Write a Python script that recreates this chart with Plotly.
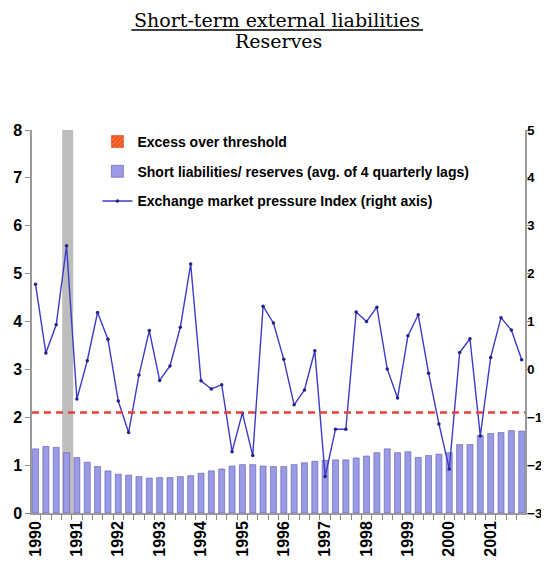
import plotly.graph_objects as go

years = ["1990", "1991", "1992", "1993", "1994", "1995",
         "1996", "1997", "1998", "1999", "2000", "2001"]
quarters = list(range(48))  # 1990Q1 .. 2001Q4

# Short liabilities / reserves (left axis)
ratio = [1.34, 1.39, 1.37, 1.26, 1.16, 1.06, 0.97, 0.88, 0.81, 0.79, 0.76, 0.73,
         0.74, 0.74, 0.76, 0.78, 0.83, 0.88, 0.92, 0.98, 1.01, 1.01, 0.98, 0.97,
         0.97, 1.01, 1.05, 1.08, 1.10, 1.11, 1.11, 1.15, 1.19, 1.26, 1.34, 1.26,
         1.28, 1.16, 1.20, 1.23, 1.26, 1.43, 1.43, 1.62, 1.66, 1.68, 1.72, 1.71]

# Exchange market pressure index (right axis)
empi = [1.78, 0.34, 0.93, 2.58, -0.62, 0.18, 1.19, 0.63, -0.66, -1.32, -0.12, 0.81,
        -0.23, 0.07, 0.88, 2.20, -0.24, -0.41, -0.32, -1.72, -0.91, -1.80, 1.32, 0.97,
        0.21, -0.74, -0.43, 0.39, -2.24, -1.25, -1.25, 1.20, 1.00, 1.30, 0.01, -0.60,
        0.70, 1.14, -0.08, -1.14, -2.08, 0.35, 0.64, -1.39, 0.25, 1.08, 0.82, 0.20]

threshold = 2.1
crisis_quarter = 3  # 1990Q4 shaded

font_fam = "Liberation Sans, Arial, sans-serif"
serif = "DejaVu Serif, Liberation Serif, serif"

# figure sized to fit the page inside its 8px body margin
FW, FH = 533, 560
# plot-area geometry in figure pixels
L, R, T, B = 23.5, 517.0, 122.0, 505.0
W, H = R - L, B - T


def px(xp):
    return (xp - 8 - L) / W


def py(yp):
    return (B - (yp - 8)) / H


fig = go.Figure()

fig.add_trace(go.Bar(
    x=[None], y=[None], name="Excess over threshold",
    marker=dict(color="#ff5a1f", line=dict(color="#c03000", width=0.5),
                pattern=dict(shape="/", fgcolor="#b02000", bgcolor="#ff6a30", size=4, solidity=0.3)),
    legendgroup="a", showlegend=True))

fig.add_trace(go.Bar(
    x=quarters, y=ratio, name="Short liabilities/ reserves (avg. of 4 quarterly lags)",
    marker=dict(color="#9a9ae6", line=dict(color="#5a5aa8", width=0.6)),
    width=0.58, legendgroup="b"))

fig.add_trace(go.Scatter(
    x=quarters, y=empi, yaxis="y2", mode="lines+markers",
    name="Exchange market pressure Index (right axis)",
    line=dict(color="#3b3bc8", width=1.4),
    marker=dict(color="#22228a", size=3.5),
    legendgroup="c"))

# crisis shading
fig.add_shape(type="rect", xref="x", yref="paper",
              x0=crisis_quarter - 0.42, x1=crisis_quarter + 0.64, y0=0, y1=1,
              fillcolor="#bdbdbd", line=dict(width=0), layer="below")

# threshold line
fig.add_shape(type="line", xref="paper", yref="y", x0=0, x1=1,
              y0=threshold, y1=threshold,
              line=dict(color="#e8413a", width=2.6, dash="7px,5px"), layer="above")

# title as a fraction
fig.add_annotation(text="Short-term external liabilities", xref="paper", yref="paper",
                   x=px(277), y=py(20.5), xanchor="center", yanchor="middle",
                   showarrow=False, font=dict(family=serif, size=19, color="black"))
fig.add_annotation(text="Reserves", xref="paper", yref="paper",
                   x=px(278), y=py(41), xanchor="center", yanchor="middle",
                   showarrow=False, font=dict(family=serif, size=19, color="black"))
fig.add_shape(type="line", xref="paper", yref="paper",
              x0=px(131), x1=px(423), y0=py(30), y1=py(30),
              line=dict(color="black", width=1.3))

fig.update_layout(
    width=FW, height=FH,
    margin=dict(l=L, r=FW - R, t=T, b=FH - B, pad=0),
    paper_bgcolor="white", plot_bgcolor="white",
    bargap=0.42,
    showlegend=True,
    legend=dict(x=px(97), y=py(126), xanchor="left", yanchor="top",
                bgcolor="rgba(0,0,0,0)", tracegroupgap=8.5,
                font=dict(family=font_fam, size=14, color="black", weight="bold"),
                itemwidth=30),
    xaxis=dict(range=[-0.34, 47.32], showgrid=False, zeroline=False,
               showline=True, linecolor="#9a9a9a", linewidth=1.5,
               tickvals=[4 * i for i in range(len(years))], ticktext=years,
               tickangle=-90, ticks="", ticklen=0, automargin=False,
               tickfont=dict(family=font_fam, size=16, color="black", weight="bold"),
               minor=dict(tickvals=[q + 0.5 for q in quarters[:-1]], ticks="outside",
                          ticklen=5, tickcolor="#888", tickwidth=1)),
    yaxis=dict(range=[0, 8], dtick=1, showgrid=False, zeroline=False,
               showline=True, linecolor="#9a9a9a", linewidth=1.5, automargin=False,
               ticks="outside", ticklen=5, tickcolor="#888",
               tickfont=dict(family=font_fam, size=16, color="black", weight="bold")),
    yaxis2=dict(range=[-3, 5], dtick=1, overlaying="y", side="right", showgrid=False,
                zeroline=False, showline=True, linecolor="#9a9a9a", linewidth=1.5,
                ticks="outside", ticklen=3, tickcolor="#888", automargin=False,
                ticklabelstandoff=-5,
                tickfont=dict(family=font_fam, size=13, color="black", weight="bold")),
)

fig.write_html("out.html")
